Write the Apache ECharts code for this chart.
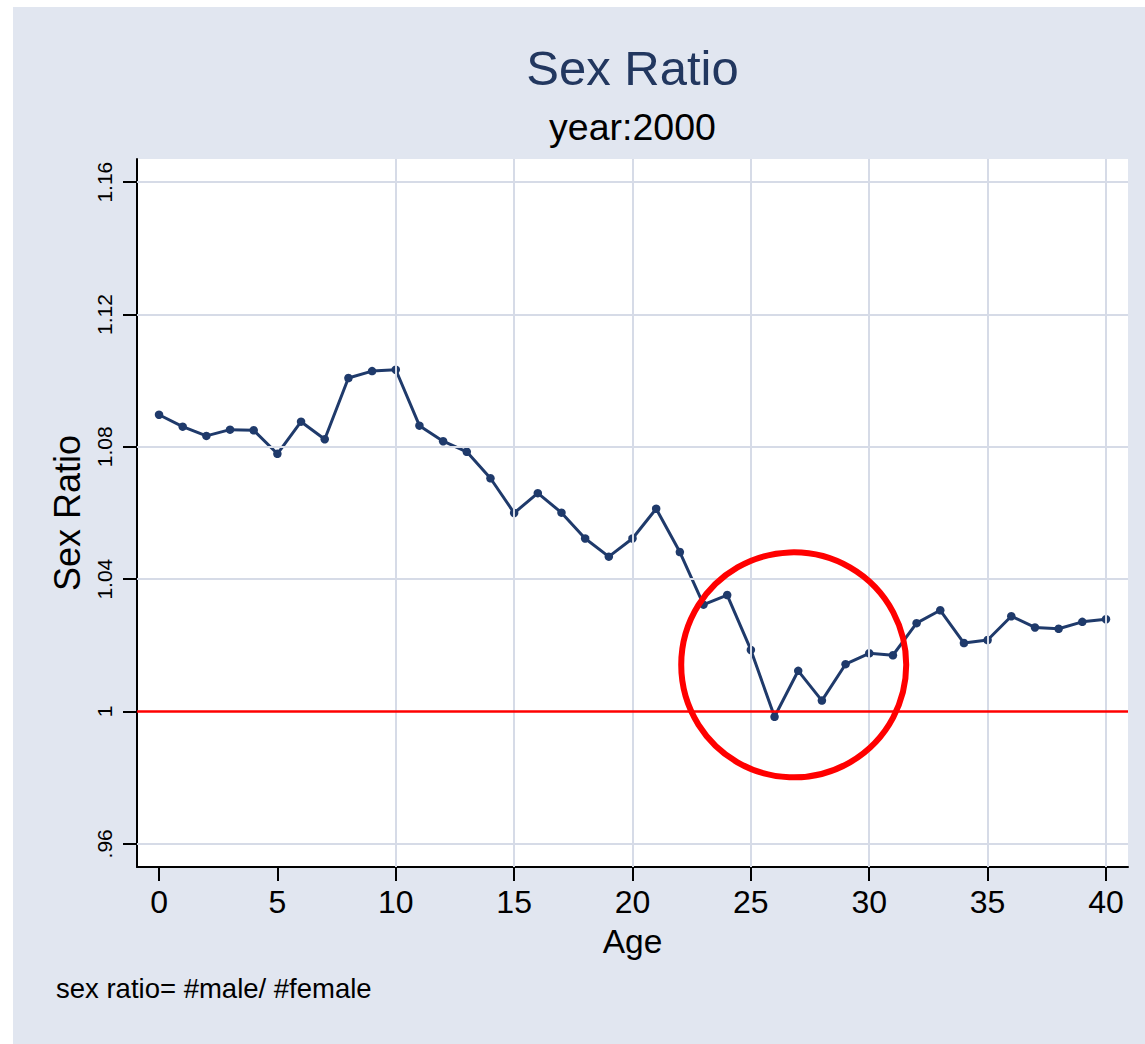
<!DOCTYPE html>
<html>
<head>
<meta charset="utf-8">
<script src="https://cdn.jsdelivr.net/npm/echarts@6/dist/echarts.min.js"></script>
<style>
  html, body { margin: 0; padding: 0; background: #ffffff; }
  #chart { position: absolute; left: 13px; top: 7px; width: 1132px; height: 1037px; background: #e1e6f0; }
</style>
</head>
<body>
<div id="chart"></div>
<script>
// ---- data ----
const ages = [0,1,2,3,4,5,6,7,8,9,10,11,12,13,14,15,16,17,18,19,20,21,22,23,24,25,26,27,28,29,30,31,32,33,34,35,36,37,38,39,40];
const sexRatio = [1.0897,1.0861,1.0833,1.0852,1.0850,1.0779,1.0876,1.0823,1.1008,1.1029,1.1033,
                  1.0864,1.0817,1.0785,1.0705,1.0600,1.0660,1.0601,1.0523,1.0468,1.0523,
                  1.0613,1.0482,1.0323,1.0352,1.0186,0.9984,1.0123,1.0033,1.0143,1.0176,
                  1.0170,1.0267,1.0306,1.0207,1.0216,1.0288,1.0254,1.0250,1.0271,1.0279];
const xTickValues = [0,5,10,15,20,25,30,35,40];
const xTickLabels = ['0','5','10','15','20','25','30','35','40'];
const yTickValues = [0.96,1.00,1.04,1.08,1.12,1.16];
const yTickLabels = ['.96','1','1.04','1.08','1.12','1.16'];
const xGridValues = [10,15,20,25,30,35,40];
const yGridValues = [0.96,1.04,1.08,1.12,1.16];
const referenceLine = [1.0];
const highlightCircle = [[26.81, 1.0141]];   // annotation circle centre (age, ratio)

const FONT = "'Liberation Sans', Arial, Helvetica, sans-serif";
const NAVY = '#1f3a6b';

function lookupLabel(values, labels, v) {
  for (let i = 0; i < values.length; i++) if (Math.abs(values[i] - v) < 1e-6) return labels[i];
  return '';
}

const chart = echarts.init(document.getElementById('chart'), null, { renderer: 'svg' });
chart.setOption({
  animation: false,
  textStyle: { fontFamily: FONT },
  title: [
    { text: 'Sex Ratio', left: 619.5, top: 36.5, textAlign: 'center', padding: 0,
      textStyle: { fontSize: 49, fontWeight: 'normal', color: '#22375f', fontFamily: FONT } },
    { text: 'year:2000', left: 619.5, top: 100.5, textAlign: 'center', padding: 0,
      textStyle: { fontSize: 37.5, fontWeight: 'normal', color: '#000', fontFamily: FONT } }
  ],
  grid: { left: 124, top: 152, width: 991, height: 708, show: true, backgroundColor: '#ffffff', borderWidth: 0, containLabel: false },
  xAxis: {
    type: 'value', min: -0.93, max: 40.93,
    name: 'Age', nameLocation: 'middle', nameGap: 74,
    nameTextStyle: { fontSize: 33.5, color: '#000', align: 'center', verticalAlign: 'middle', fontFamily: FONT },
    axisLine: { show: true, onZero: false, lineStyle: { color: '#000', width: 2 } },
    axisTick: { show: true, customValues: xTickValues, length: 14, lineStyle: { color: '#000', width: 2 } },
    axisLabel: { customValues: xTickValues, fontSize: 32, color: '#000', margin: 35, verticalAlign: 'middle', align: 'center',
      formatter: v => lookupLabel(xTickValues, xTickLabels, v) },
    splitLine: { show: false }
  },
  yAxis: {
    type: 'value', min: 0.953, max: 1.167,
    name: 'Sex Ratio', nameLocation: 'middle', nameGap: 69, nameRotate: 90,
    nameTextStyle: { fontSize: 36, color: '#000', align: 'center', verticalAlign: 'middle', fontFamily: FONT },
    axisLine: { show: true, onZero: false, lineStyle: { color: '#000', width: 2 } },
    axisTick: { show: true, customValues: yTickValues, length: 14, lineStyle: { color: '#000', width: 2 } },
    axisLabel: { customValues: yTickValues, fontSize: 21, color: '#000', margin: 33, rotate: 90, align: 'center', verticalAlign: 'middle',
      formatter: v => lookupLabel(yTickValues, yTickLabels, v) },
    splitLine: { show: false }
  },
  series: [
    { name: 'grid', type: 'line', data: [], z: 1, silent: true,
      markLine: { silent: true, symbol: ['none','none'], label: { show: false }, animation: false,
        lineStyle: { color: '#d6dbe7', width: 2, type: 'solid' },
        data: xGridValues.map(v => ({ xAxis: v })).concat(yGridValues.map(v => ({ yAxis: v }))) } },
    { name: 'ref', type: 'line', data: [], z: 2, silent: true,
      markLine: { silent: true, symbol: ['none','none'], label: { show: false }, animation: false,
        lineStyle: { color: '#ff0000', width: 2.6, type: 'solid', opacity: 1 },
        data: referenceLine.map(v => ({ yAxis: v })) } },
    { name: 'Sex Ratio', type: 'line', z: 4,
      data: ages.map((a, i) => [a, sexRatio[i]]),
      symbol: 'circle', symbolSize: 8.5, showSymbol: true,
      lineStyle: { color: NAVY, width: 3 },
      itemStyle: { color: NAVY, borderWidth: 0 } },
    { name: 'highlight', type: 'scatter', z: 5, silent: true,
      data: highlightCircle, symbol: 'circle', symbolSize: 225,
      itemStyle: { color: 'rgba(0,0,0,0)', borderColor: '#ff0000', borderWidth: 6, opacity: 1 } }
  ],
  graphic: [
    { type: 'text', left: 43, top: 967, silent: true,
      style: { text: 'sex ratio= #male/ #female', fontSize: 27.5, fontFamily: FONT, fill: '#000' } }
  ]
});
</script>
</body>
</html>
